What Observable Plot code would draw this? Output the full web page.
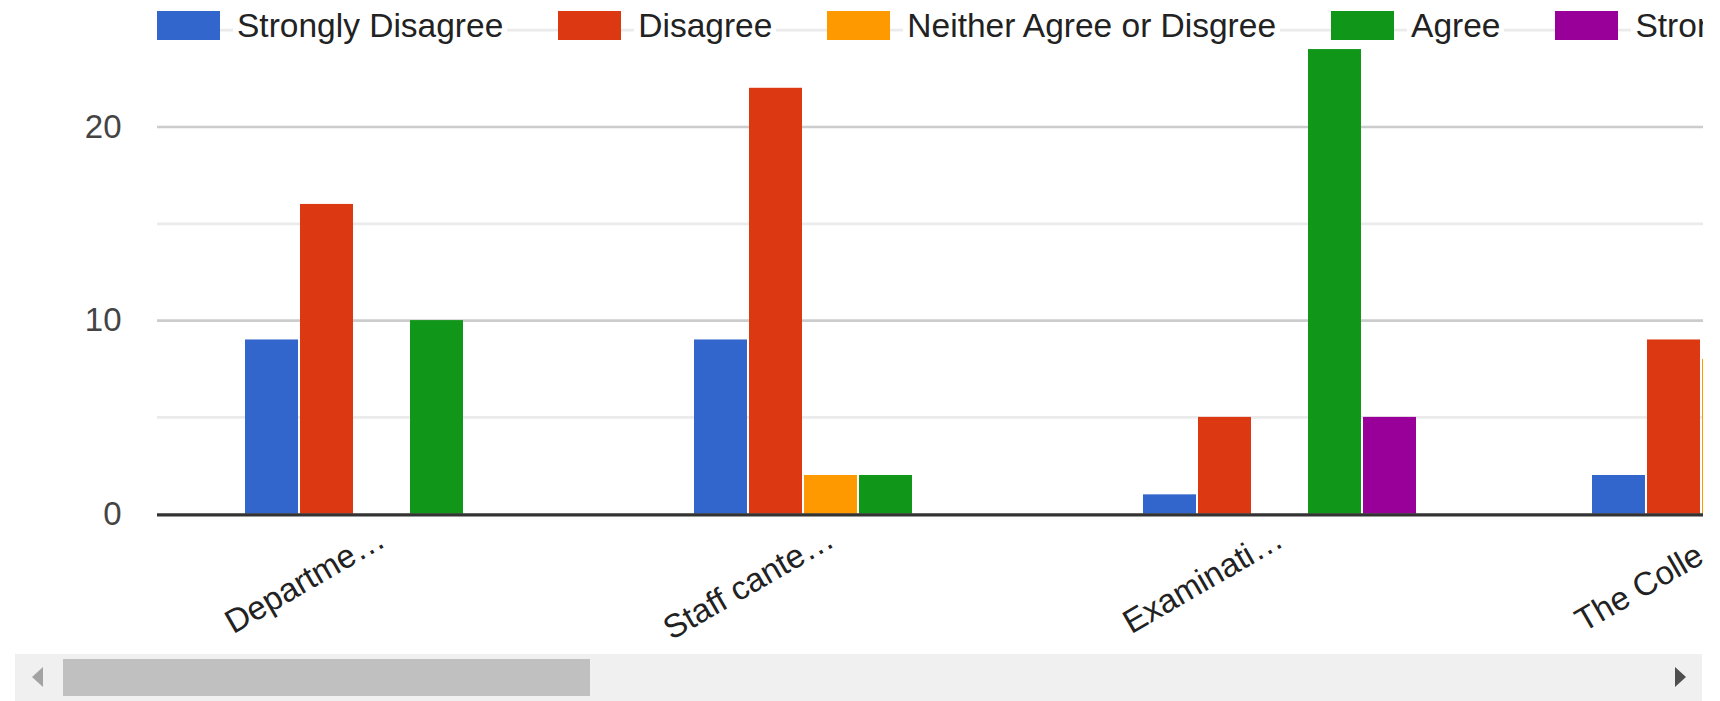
<!DOCTYPE html>
<html>
<head>
<meta charset="utf-8">
<script src="https://cdn.jsdelivr.net/npm/d3@7"></script>
<script src="https://cdn.jsdelivr.net/npm/@observablehq/plot@0.6"></script>
<style>
  html, body { margin: 0; padding: 0; background: #fff; }
  #wrap { position: relative; width: 1720px; height: 701px; overflow: hidden; font-family: "Liberation Sans", Arial, sans-serif; }
  #chart { position: absolute; left: 0; top: 0; width: 1703px; height: 654px; overflow: hidden; }
  #chart svg { overflow: hidden; }
  [aria-label^="y-axis"] text { fill: #444; }
  #legend { position: absolute; left: 157px; top: 0px; height: 51px; width: 1546px; overflow: hidden; display: flex; align-items: center; flex-wrap: nowrap; white-space: nowrap; }
  .item { display: flex; align-items: center; margin-right: 51px; flex: none; }
  .sw { width: 63px; height: 29px; flex: none; }
  .lab { font-size: 33.5px; color: #222; background: #fff; padding: 0 4px; margin-left: 13px; line-height: 36px; }
  #track { position: absolute; left: 15px; top: 654px; width: 1687px; height: 47px; background: #f0f0f0; }
  #thumb { position: absolute; left: 63px; top: 659px; width: 527px; height: 37px; background: #c0c0c0; }
  #larr { position: absolute; left: 32px; top: 667px; width: 0; height: 0; border-top: 10px solid transparent; border-bottom: 10px solid transparent; border-right: 11px solid #a3a3a3; }
  #rarr { position: absolute; left: 1675px; top: 667px; width: 0; height: 0; border-top: 10px solid transparent; border-bottom: 10px solid transparent; border-left: 11px solid #4f4f4f; }
</style>
</head>
<body>
<div id="wrap">
  <div id="chart"></div>
  <div id="legend"></div>
  <div id="track"></div>
  <div id="thumb"></div>
  <div id="larr"></div>
  <div id="rarr"></div>
</div>
<script>
// ---- data ----
const categories = ["Departme…", "Staff cante…", "Examinati…", "The Colle…"];
const series = ["Strongly Disagree", "Disagree", "Neither Agree or Disgree", "Agree", "Strongly Agree"];
const colors = ["#3366cc", "#dc3912", "#ff9900", "#109618", "#990099"];
const stronglyDisagree = [9, 9, 1, 2];
const disagree = [16, 22, 5, 9];
const neither = [0, 2, 0, 8];
const agree = [10, 2, 24, null];
const stronglyAgree = [0, 0, 5, null];
const yTicks = [0, 10, 20];
const majorGrid = [10, 20];
const minorGrid = [5, 15, 25];

const seriesValues = [stronglyDisagree, disagree, neither, agree, stronglyAgree];
const rows = [];
categories.forEach((c, i) => {
  series.forEach((s, j) => {
    const v = seriesValues[j][i];
    if (v != null) rows.push({category: c, series: s, value: v});
  });
});

// ---- layout ----
const chartW = 1703, chartH = 654;
const mLeft = 156, mTop = 29.7, baseY = 513.7;
const groupStep = 449.33;

const chart = Plot.plot({
  width: chartW,
  height: chartH,
  marginLeft: mLeft,
  marginRight: 0,
  marginTop: mTop,
  marginBottom: chartH - baseY,
  style: {fontFamily: "'Liberation Sans', Arial, sans-serif", fontSize: "33px", color: "#222", background: "transparent", overflow: "hidden"},
  facet: {data: rows, x: "category", marginRight: 0, marginLeft: 0},
  fx: {
    domain: categories,
    range: [mLeft, mLeft + groupStep * categories.length],
    padding: 0,
    paddingInner: 0,
    paddingOuter: 0,
    axis: "bottom",
    label: null,
    tickSize: 0,
    tickPadding: 22,
    tickRotate: -30
  },
  x: {domain: series, axis: null, paddingInner: 2 / 56, paddingOuter: 1.5298},
  y: {domain: [0, 25], ticks: yTicks, tickSize: 0, tickPadding: 36, label: null, grid: false},
  color: {domain: series, range: colors},
  marks: [
    Plot.ruleY(minorGrid, {stroke: "#ebebeb", strokeWidth: 2.7}),
    Plot.ruleY(majorGrid, {stroke: "#cccccc", strokeWidth: 2.7}),
    Plot.barY(rows, {x: "series", y: "value", fill: "series"}),
    Plot.ruleY([0], {stroke: "#333333", strokeWidth: 3.3, dy: 0.6})
  ]
});
document.getElementById("chart").appendChild(chart);

// ---- legend ----
const legend = document.getElementById("legend");
series.forEach((s, j) => {
  const item = document.createElement("div");
  item.className = "item";
  const sw = document.createElement("div");
  sw.className = "sw";
  sw.style.background = colors[j];
  const lab = document.createElement("span");
  lab.className = "lab";
  lab.textContent = s;
  item.appendChild(sw);
  item.appendChild(lab);
  legend.appendChild(item);
});
</script>
</body>
</html>
